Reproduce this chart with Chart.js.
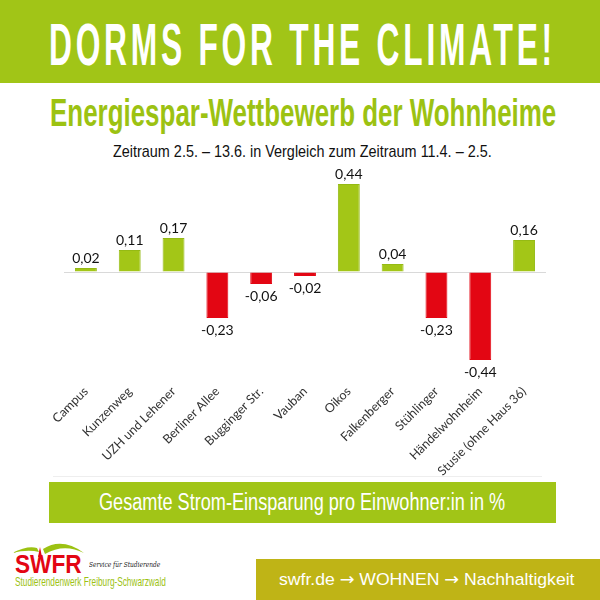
<!DOCTYPE html>
<html lang="de">
<head>
<meta charset="utf-8">
<title>Dorms for the Climate</title>
<script src="https://cdn.jsdelivr.net/npm/chart.js@4"></script>
<style>
  html, body { margin: 0; padding: 0; background: #fff; }
  #page { position: relative; width: 600px; height: 600px; overflow: hidden; font-family: "Liberation Sans", sans-serif; }
  #page div { position: absolute; white-space: nowrap; }
  .band { background: #a1c517; }
  #kopf { left: 0; top: 0; width: 600px; height: 83px; }
  #titel { top: 12px; font-size: 59px; line-height: 66px; font-weight: bold; color: #fff; letter-spacing: 7px; }
  #untertitel { top: 90px; font-size: 39px; line-height: 46px; font-weight: bold; color: #9cc212; }
  #zeitraum { top: 140px; font-size: 17px; line-height: 24px; color: #111; }
  #rahmen { left: 53px; top: 476px; width: 489px; height: 1px; background: #eeeeee; }
  #fuss { left: 49px; top: 482px; width: 507px; height: 41px; }
  #fusstext { top: 488px; font-size: 23px; line-height: 28px; color: #fff; }
  #linkband { left: 256px; top: 559px; width: 344px; height: 41px; background: #bfb416; }
  #link { top: 568px; line-height: 22px; color: #fff; font-size: 17px; }
  #link span { font-family: "DejaVu Sans", sans-serif; }
  #logo-swfr { top: 549px; font-weight: bold; font-size: 25px; line-height: 30px; color: #e30613; }
  #logo-service { top: 559px; font-family: "DejaVu Serif", serif; font-style: italic; font-size: 8px; line-height: 12px; color: #222; }
  #logo-name { top: 574px; font-size: 13px; line-height: 15px; color: #9cc212; }
  #logo-bogen { position: absolute; left: 0; top: 535px; }
  #grafik { position: absolute; left: 0; top: 150px; }
</style>
</head>
<body>
<div id="page">
  <div id="kopf" class="band"></div>
  <div id="titel" data-x="49" data-w="507">DORMS FOR THE CLIMATE!</div>
  <div id="untertitel" data-x="50" data-w="506">Energiespar-Wettbewerb der Wohnheime</div>
  <div id="zeitraum" data-x="113" data-w="379">Zeitraum 2.5. – 13.6. in Vergleich zum Zeitraum 11.4. – 2.5.</div>
  <canvas id="grafik" width="600" height="330"></canvas>
  <div id="rahmen"></div>
  <div id="fuss" class="band"></div>
  <div id="fusstext" data-x="99" data-w="406">Gesamte Strom-Einsparung pro Einwohner:in in %</div>
  <svg id="logo-bogen" width="100" height="30">
    <path d="M12 18 Q28 10 37 13 L39 17 Q28 14 12 18 Z" fill="#9cc212"/>
    <path d="M43 14 Q62 2 84 18 Q64 8 45 19 Z" fill="#9cc212"/>
    <path d="M38 22 L40 12 L42 22 Z" fill="#e30613"/>
  </svg>
  <div id="logo-swfr" data-x="15" data-w="67">SWFR</div>
  <div id="logo-service" data-x="89" data-w="71">Service für Studierende</div>
  <div id="logo-name" data-x="15" data-w="151">Studierendenwerk Freiburg-Schwarzwald</div>
  <div id="linkband"></div>
  <div id="link" data-x="279" data-w="296">swfr.de <span>→</span> WOHNEN <span>→</span> Nachhaltigkeit</div>
</div>
<script>
const wohnheime = ["Campus", "Kunzenweg", "UZH und Lehener", "Berliner Allee", "Bugginger Str.", "Vauban", "Oikos", "Falkenberger", "Stühlinger", "Händelwohnheim", "Stusie (ohne Haus 36)"];
const einsparung = [0.02, 0.11, 0.17, -0.23, -0.06, -0.02, 0.44, 0.04, -0.23, -0.44, 0.16];

const GRUEN = "#a3c617";
const GRUEN_RAND = "#95ba14";
const ROT = "#e30613";

// schmale Schrift gibt es nicht, also Texte auf die Zielbreite stauchen
document.querySelectorAll("[data-w]").forEach(el => {
    el.style.left = el.dataset.x + "px";
    el.style.transformOrigin = "left center";
    el.style.transform = `scaleX(${el.dataset.w / el.offsetWidth})`;
});

// Werte ueber bzw. unter den Balken schreiben
const balkenWerte = {
    id: "balkenWerte",
    afterDatasetsDraw(chart) {
        const ctx = chart.ctx;
        ctx.save();
        ctx.font = "14px Lato, sans-serif";
        ctx.fillStyle = "#111";
        ctx.textAlign = "center";
        chart.getDatasetMeta(0).data.forEach((bar, i) => {
            const wert = einsparung[i];
            ctx.textBaseline = wert >= 0 ? "bottom" : "top";
            const y = wert >= 0 ? bar.y - 3 : bar.y + 5;
            ctx.fillText(wert.toFixed(2).replace(".", ","), bar.x, y);
        });
        ctx.restore();
    }
};

new Chart(document.getElementById("grafik").getContext("2d"), {
    type: "bar",
    data: {
        labels: wohnheime,
        datasets: [{
            data: einsparung,
            backgroundColor: einsparung.map(v => v >= 0 ? GRUEN : ROT),
            borderColor: einsparung.map(v => v >= 0 ? GRUEN_RAND : ROT),
            borderWidth: 1,
            barPercentage: 0.5,
            categoryPercentage: 1
        }]
    },
    options: {
        responsive: false,
        animation: false,
        devicePixelRatio: 1,
        layout: { padding: { left: 64, right: 54, top: 12, bottom: 0 } },
        plugins: {
            legend: { display: false },
            title: { display: false },
            tooltip: { enabled: false }
        },
        scales: {
            x: {
                grid: { display: false },
                border: { display: false },
                afterFit(scale) { scale.height = 98; },
                ticks: {
                    autoSkip: false,
                    minRotation: 45,
                    maxRotation: 45,
                    padding: -6,
                    color: "#333",
                    font: { family: "Lato, sans-serif", size: 12.5 }
                }
            },
            y: {
                min: -0.55,
                max: 0.55,
                border: { display: false },
                afterFit(scale) { scale.width = 0; },
                ticks: { display: false, stepSize: 0.55 },
                grid: {
                    drawTicks: false,
                    color: c => Math.abs(c.tick.value) < 0.001 ? "#d9d9d9" : "transparent"
                }
            }
        }
    },
    plugins: [balkenWerte]
});
</script>
</body>
</html>
